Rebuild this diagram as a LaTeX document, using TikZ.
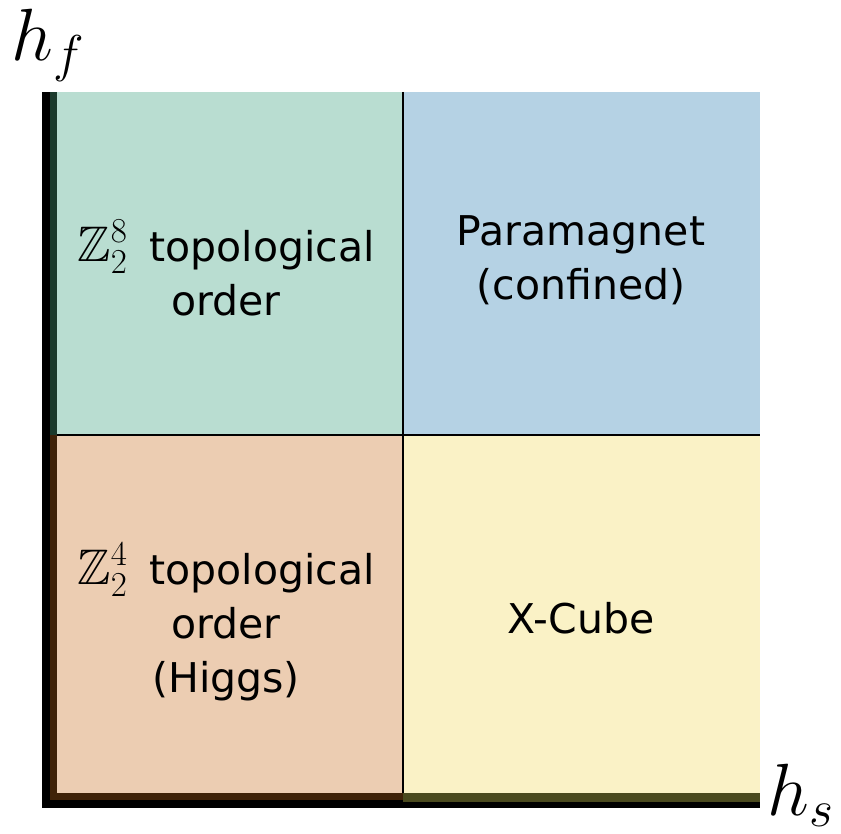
\RequirePackage{fix-cm}
\documentclass[tikz,border=0pt]{standalone}
\usepackage{amssymb}
\usepackage[no-math]{fontspec}
\setmainfont{DejaVu Sans}
\definecolor{cTL}{HTML}{B9DDD1}
\definecolor{cTR}{HTML}{B5D2E4}
\definecolor{cBL}{HTML}{ECCDB2}
\definecolor{cBR}{HTML}{FAF2C6}
\definecolor{sTL}{HTML}{1B3A2C}
\definecolor{sBL}{HTML}{3F2208}
\definecolor{sBR}{HTML}{4A4A1E}
\tikzset{
  lbl/.style={align=center, font=\fontsize{41}{54}\selectfont, inner sep=0pt},
  axlbl/.style={font=\fontsize{74}{74}\selectfont, inner sep=0pt},
}
\newcommand{\zz}[1]{{\fontsize{50}{50}\selectfont$\mathbb{Z}_2^{#1}$}\hspace{22pt}}
\begin{document}
\begin{tikzpicture}[x=1pt,y=-1pt]
\useasboundingbox (0,0) rectangle (841,834);
% fills
\fill[cTL] (57,92) rectangle (403,435);
\fill[cTR] (403,92) rectangle (760,435);
\fill[cBL] (57,435) rectangle (403,793);
\fill[cBR] (403,435) rectangle (760,793);
% shadows
\fill[sTL] (50,92) rectangle (57,435);
\fill[sBL] (50,435) rectangle (57,800);
\fill[sBL] (50,793) rectangle (403,800);
\fill[sBR] (403,793) rectangle (760,802);
% axes
\fill[black] (42,92) rectangle (50,808);
\fill[black] (42,800) rectangle (403,808);
\fill[black] (403,802) rectangle (760,808);
% dividers
\draw[line width=1.2pt] (403,92) -- (403,793);
\draw[line width=1.2pt] (57,435) -- (760,435);
% labels
\node[lbl] (tl) at (226,268) {\zz{8}topological\\order};
\node[lbl] (tr) at (581,260) {Paramagnet\\(confined)};
\node[lbl] (bl) at (226,622) {\zz{4}topological\\order\\(Higgs)};
\node[lbl] (br) at (581,618) {X-Cube};
\node[axlbl] (hf) at (48,45) {$h_f$};
\node[axlbl] (hs) at (801,795) {$h_s$};
\end{tikzpicture}
\end{document}
